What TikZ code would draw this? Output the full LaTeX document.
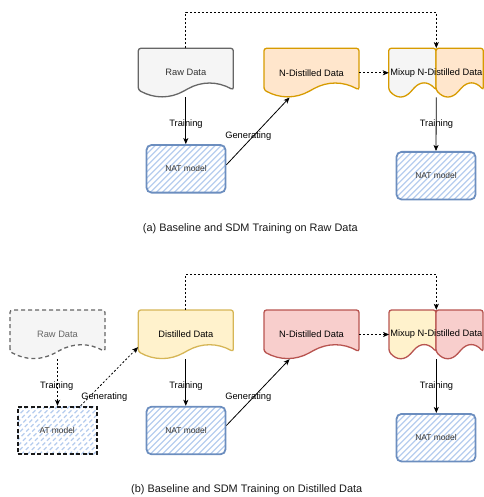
\documentclass[tikz,border=0pt]{standalone}
\usepackage{fontspec}
\setmainfont{Liberation Sans}
\usetikzlibrary{arrows.meta,calc}
\definecolor{greyfill}{HTML}{F5F5F5}
\definecolor{greyline}{HTML}{666666}
\definecolor{orangefill}{HTML}{FFE6CC}
\definecolor{orangeline}{HTML}{D79B00}
\definecolor{yellowfill}{HTML}{FFF2CC}
\definecolor{yellowline}{HTML}{D6B656}
\definecolor{redfill}{HTML}{F8CECC}
\definecolor{redline}{HTML}{B85450}
\definecolor{blueline}{HTML}{6C8EBF}
\definecolor{hatchblue}{HTML}{B6CDEE}
\definecolor{txtgrey}{HTML}{333333}
\newcommand\docshp[5]{%
 \path[docline,#5] ({#1},{#2+0.85*#4}) -- (#1,#2) -- ({#1+#3},#2) -- ({#1+#3},{#2+0.85*#4})
   .. controls ({#1+#3*5/6},{#2+0.67*#4}) and ({#1+#3*2/3},{#2+0.67*#4}) .. ({#1+#3/2},{#2+0.85*#4})
   .. controls ({#1+#3/3},{#2+1.03*#4}) and ({#1+#3/6},{#2+1.03*#4}) .. cycle;}
\tikzset{
 docline/.style={line width=1.3pt, rounded corners=2.5pt},
 lbl/.style={font=\fontsize{9.3}{11}\selectfont, inner sep=1pt},
 hatched/.style={path picture={\foreach \k in {-18,...,18}{\draw[hatchblue,line width=1.2pt] ([xshift=\k*6pt]path picture bounding box.center) ++(-70pt,-70pt) -- ++(140pt,140pt);}}},
 model/.style={hatched, minimum width=79pt, minimum height=47.6pt, inner sep=0pt, font=\fontsize{8.4}{10}\selectfont, text=txtgrey},
 natbox/.style={model, draw=blueline, line width=1.8pt, rounded corners=5pt},
 atbox/.style={model, draw=black!90, line width=1.8pt, dash pattern=on 4pt off 2.5pt},
 arr/.style={-{Stealth[length=6pt,width=5pt,inset=1.5pt]}, line width=0.8pt},
 dotarr/.style={arr, dash pattern=on 2pt off 2pt},
 doctext/.style={minimum width=#1, minimum height=49pt, inner sep=0pt, font=\fontsize{9.3}{11}\selectfont},
 captext/.style={font=\fontsize{10.9}{13}\selectfont, text=black!90},
}
\begin{document}
\begin{tikzpicture}[x=1pt,y=-1pt]
\useasboundingbox (0,0) rectangle (483,497);
% ---------- (a)
\docshp{138.3}{48.3}{95}{49}{fill=greyfill,draw=greyline}
\node[doctext=95, text=txtgrey] (raw1) at (185.8,72.8) {Raw Data};
\docshp{264}{48.3}{95}{49}{fill=orangefill,draw=orangeline}
\node[doctext=95] (nd1) at (311.5,72.8) {N-Distilled Data};
\docshp{388.7}{48.3}{47.3}{49}{fill=greyfill,draw=orangeline}
\docshp{436}{48.3}{47.3}{49}{fill=orangefill,draw=orangeline}
\node[doctext=94.6] (mx1) at (436.3,72.8) {Mixup N-Distilled Data};
\node[natbox] (nat1) at (186,168.8) {NAT model};
\node[natbox] (nat2) at (436,175.7) {NAT model};
\draw[arr] (raw1.south) -- (raw1.south |- nat1.north);
\draw[arr] ([yshift=4pt]nat1.east) -- ($(nd1.south west)!0.27!(nd1.south east)$);
\draw[dotarr] (nd1.east) -- (mx1.west);
\draw[dotarr] (raw1.north) -- ++(0,-36) -| (mx1.north);
\draw[arr] (mx1.south) -- (nat2.north);
\node[lbl] (t1) at (186,123.7) {Training};
\node[lbl] (g1) at (248.3,135.7) {Generating};
\node[lbl] (t2) at (436.5,123.7) {Training};
\node[captext] (capa) at (250.3,228.7) {(a) Baseline and SDM Training on Raw Data};
% ---------- (b)
\docshp{10}{310}{95}{49}{fill=greyfill,draw=greyline,dash pattern=on 4pt off 3pt}
\node[doctext=95, text=greyline] (raw2) at (57.5,334.5) {Raw Data};
\docshp{138.3}{310}{95}{49}{fill=yellowfill,draw=yellowline}
\node[doctext=95] (dd) at (185.8,334.5) {Distilled Data};
\docshp{264}{310}{95}{49}{fill=redfill,draw=redline}
\node[doctext=95] (nd2) at (311.5,334.5) {N-Distilled Data};
\docshp{389}{310}{47}{49}{fill=yellowfill,draw=redline}
\docshp{436}{310}{47}{49}{fill=redfill,draw=redline}
\node[doctext=94] (mx2) at (436.3,334.5) {Mixup N-Distilled Data};
\node[atbox] (at) at (57.2,430.5) {AT model};
\node[natbox] (nat3) at (186,430.5) {NAT model};
\node[natbox] (nat4) at (436,437.7) {NAT model};
\draw[dotarr] (raw2.south) -- (raw2.south |- at.north);
\draw[dotarr] ($(at.north west)!0.79!(at.north east)$) -- ($(dd.north west)+(0,37.3)$);
\draw[arr] (dd.south) -- (dd.south |- nat3.north);
\draw[arr] ([yshift=5pt]nat3.east) -- ($(nd2.south west)!0.27!(nd2.south east)$);
\draw[dotarr] (nd2.east) -- (mx2.west);
\draw[dotarr] (dd.north) -- ++(0,-35.7) -| (mx2.north);
\draw[arr] (mx2.south) -- (mx2.south |- nat4.north);
\node[lbl] (t3) at (56.7,385.7) {Training};
\node[lbl] (g2) at (104.3,397.3) {Generating};
\node[lbl] (t4) at (186,385.7) {Training};
\node[lbl] (g3) at (248.3,397.3) {Generating};
\node[lbl] (t5) at (436.5,385.7) {Training};
\node[captext] (capb) at (246.7,490) {(b) Baseline and SDM Training on Distilled Data};
\end{tikzpicture}
\end{document}
